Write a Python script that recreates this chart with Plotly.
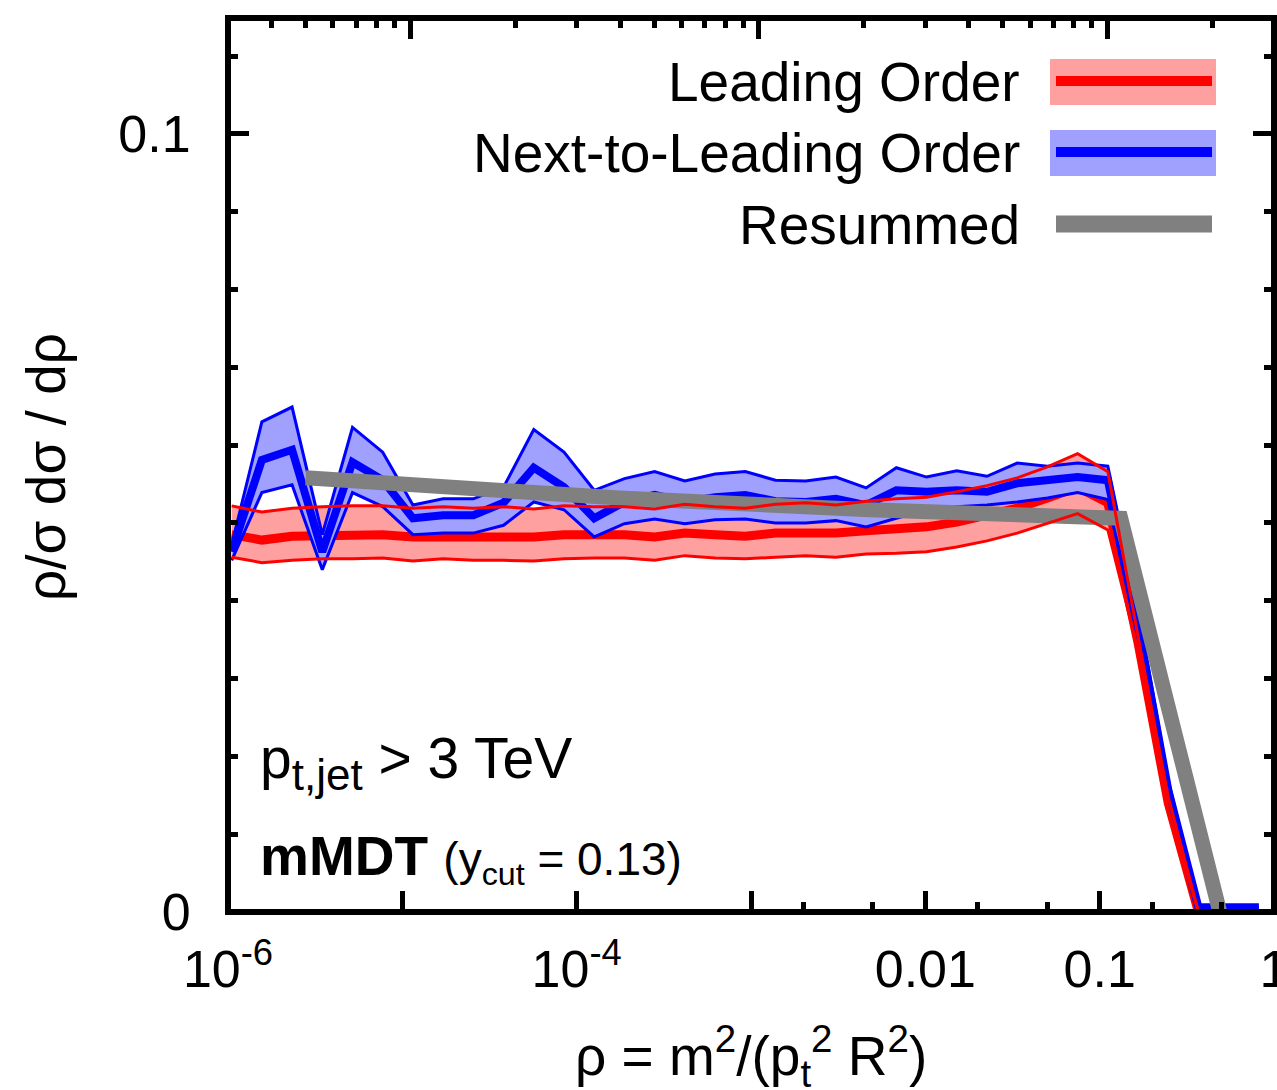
import plotly.graph_objects as go

# ---------------- data ----------------
rho = [1.050e-6, 1.564e-6, 2.331e-6, 3.474e-6, 5.177e-6, 7.716e-6, 1.150e-5, 1.714e-5,
       2.554e-5, 3.807e-5, 5.675e-5, 8.458e-5, 1.2606e-4, 1.879e-4, 2.800e-4, 4.174e-4,
       6.220e-4, 9.270e-4, 1.3817e-3, 2.0593e-3, 3.069e-3, 4.574e-3, 6.818e-3, 1.0160e-2,
       1.514e-2, 2.257e-2, 3.364e-2, 5.013e-2, 7.472e-2, 0.1114, 0.1660, 0.2473, 0.3686,
       0.5495, 0.819]

lo_upper = [0.0522, 0.0514, 0.0519, 0.0521, 0.0522, 0.0522, 0.0519, 0.0521, 0.0519, 0.0521,
            0.0518, 0.0522, 0.0521, 0.0521, 0.0518, 0.0524, 0.0521, 0.0519, 0.0524, 0.0526,
            0.0523, 0.0528, 0.0531, 0.0533, 0.0540, 0.0548, 0.0558, 0.0572, 0.0589, 0.0566,
            0.0354, 0.0148, 0.0, 0.0, 0.0]
lo_central = [0.0485, 0.0478, 0.0483, 0.0483, 0.0485, 0.0485, 0.0482, 0.0482, 0.0482, 0.0482,
              0.0482, 0.0485, 0.0485, 0.0485, 0.0482, 0.0487, 0.0485, 0.0483, 0.0487, 0.0487,
              0.0487, 0.0490, 0.0492, 0.0495, 0.0501, 0.0509, 0.0519, 0.0532, 0.0546, 0.0526,
              0.0346, 0.0140, 0.0, 0.0, 0.0]
lo_lower = [0.0456, 0.0449, 0.0452, 0.0454, 0.0454, 0.0455, 0.0451, 0.0454, 0.0452, 0.0452,
            0.0451, 0.0454, 0.0455, 0.0455, 0.0452, 0.0458, 0.0455, 0.0454, 0.0456, 0.0458,
            0.0456, 0.0460, 0.0461, 0.0463, 0.0469, 0.0477, 0.0487, 0.0499, 0.0512, 0.0491,
            0.0337, 0.0131, 0.0, 0.0, 0.0]

nlo_upper = [0.0472, 0.0630, 0.0649, 0.0485, 0.0623, 0.0591, 0.0523, 0.0531, 0.0531, 0.0546,
             0.0620, 0.0591, 0.0542, 0.0557, 0.0566, 0.0554, 0.0563, 0.0566, 0.0555, 0.0554,
             0.0559, 0.0545, 0.0571, 0.0559, 0.0567, 0.0560, 0.0577, 0.0573, 0.0577, 0.0573,
             0.0388, 0.0170, 0.0006, 0.0006, 0.0006]
nlo_central = [0.0463, 0.0581, 0.0594, 0.0463, 0.0578, 0.0555, 0.0506, 0.0510, 0.0510, 0.0526,
               0.0571, 0.0546, 0.0506, 0.0527, 0.0536, 0.0527, 0.0533, 0.0536, 0.0528, 0.0527,
               0.0531, 0.0523, 0.0542, 0.0540, 0.0542, 0.0540, 0.0551, 0.0554, 0.0559, 0.0555,
               0.0369, 0.0157, 0.0006, 0.0006, 0.0006]
nlo_lower = [0.0452, 0.0539, 0.0549, 0.0440, 0.0539, 0.0521, 0.0485, 0.0487, 0.0487, 0.0497,
             0.0527, 0.0517, 0.0482, 0.0499, 0.0505, 0.0499, 0.0504, 0.0505, 0.0500, 0.0500,
             0.0503, 0.0495, 0.0506, 0.0517, 0.0521, 0.0523, 0.0527, 0.0532, 0.0539, 0.0530,
             0.0350, 0.0144, 0.0006, 0.0006, 0.0006]

rho_res = [2.79e-6, 1.766e-4, 4.80e-3, 0.1042, 0.1321, 0.4887]
resummed = [0.0558, 0.0532, 0.0517, 0.0508, 0.0506, 0.0]

x_tickvals = [1e-6, 1e-5, 1e-4, 1e-3, 1e-2, 1e-1, 1]
x_ticktext = ["10<sup>-6</sup>", "", "10<sup>-4</sup>", "", "0.01", "0.1", "1"]
x_minor = [2e-3, 5e-3, 2e-2, 5e-2, 0.2, 0.5]
y_tickvals = [0, 0.1]
y_ticktext = ["0", "0.1"]
y_minor = [0.01, 0.02, 0.03, 0.04, 0.05, 0.06, 0.07, 0.08, 0.09, 0.11]
m_major = [10, 100, 1000]
m_minor = [4, 5, 6, 7, 8, 9, 20, 30, 40, 50, 60, 70, 80, 90,
           200, 300, 400, 500, 600, 700, 800, 900, 2000]

legend_labels = ["Leading Order", "Next-to-Leading Order", "Resummed"]

# ---------------- styles ----------------
RED = "#ff0000"
BLUE = "#0000ff"
GRAY = "#808080"
RED_FILL = "#ffa0a0"
BLUE_FILL = "#a0a0ff"
FONT = "Liberation Sans, Arial, Helvetica, sans-serif"

fig = go.Figure()


def band(x, up, lo, color):
    return go.Scatter(x=x + x[::-1], y=up + lo[::-1], fill="toself", fillcolor=color,
                      line=dict(width=0), mode="lines", hoverinfo="skip", showlegend=False)


def line(x, y, color, width):
    return go.Scatter(x=x, y=y, mode="lines", line=dict(color=color, width=width),
                      hoverinfo="skip", showlegend=False)


fig.add_trace(band(rho, lo_upper, lo_lower, RED_FILL))
fig.add_trace(line(rho, lo_central, RED, 9))
fig.add_trace(band(rho, nlo_upper, nlo_lower, BLUE_FILL))
fig.add_trace(line(rho, nlo_central, BLUE, 8))
fig.add_trace(line(rho, nlo_upper, BLUE, 3))
fig.add_trace(line(rho, nlo_lower, BLUE, 3))
fig.add_trace(line(rho_res, resummed, GRAY, 15))
fig.add_trace(line(rho, lo_upper, RED, 3))
fig.add_trace(line(rho, lo_lower, RED, 3))

W, H = 1277, 1090
L, R, T, B = 228, 3, 18, 178
PW, PH = W - L - R, H - T - B


def px(xp):
    return (xp - L) / PW


def py(yp):
    return (T + PH - yp) / PH


tickfont = dict(family=FONT, size=52, color="black")
TXT = 55

fig.update_layout(
    width=W, height=H, autosize=False,
    margin=dict(l=L, r=R, t=T, b=B, pad=0, autoexpand=False),
    paper_bgcolor="white", plot_bgcolor="white",
    showlegend=False,
    xaxis=dict(type="log", range=[-6, 0], showgrid=False, zeroline=False, automargin=False,
               tickmode="array", tickvals=x_tickvals, ticktext=x_ticktext,
               ticks="inside", ticklen=21, tickwidth=5, tickcolor="black",
               minor=dict(tickmode="array", tickvals=x_minor, ticks="inside",
                          ticklen=10, tickwidth=5, tickcolor="black", showgrid=False),
               tickfont=tickfont, ticklabeloverflow="allow", ticklabelstandoff=22,
               showline=False),
    xaxis2=dict(type="log", overlaying="x", side="top", anchor="y", automargin=False,
                range=[0.47712, 3.47712], showgrid=False, zeroline=False,
                tickmode="array", tickvals=m_major, showticklabels=False,
                ticks="inside", ticklen=21, tickwidth=5, tickcolor="black",
                minor=dict(tickmode="array", tickvals=m_minor, ticks="inside",
                           ticklen=10, tickwidth=5, tickcolor="black", showgrid=False),
                showline=False),
    yaxis=dict(range=[0, 0.1149], showgrid=False, zeroline=False, automargin=False,
               tickmode="array", tickvals=y_tickvals, ticktext=y_ticktext,
               ticks="inside", ticklen=21, tickwidth=5, tickcolor="black",
               minor=dict(tickmode="array", tickvals=y_minor, ticks="inside",
                          ticklen=10, tickwidth=5, tickcolor="black", showgrid=False),
               tickfont=tickfont, ticklabelstandoff=26,
               showline=True, linewidth=1, linecolor="black", mirror="ticks"),
)

# helper (invisible) trace so the top mass axis is rendered
fig.add_trace(go.Scatter(x=[m_major[0]], y=[resummed[-1]], xaxis="x2", mode="markers",
                         marker=dict(opacity=0), hoverinfo="skip", showlegend=False))

shapes = []
# frame
shapes.append(dict(type="rect", xref="paper", yref="paper", x0=0, x1=1, y0=0, y1=1,
                   line=dict(color="black", width=6), layer="above"))

# legend samples
leg_y = [82, 153, 225]
band_cols = [RED_FILL, BLUE_FILL, None]
line_cols = [RED, BLUE, GRAY]
line_w = [10, 10, 17]
for i in range(3):
    if band_cols[i]:
        shapes.append(dict(type="rect", xref="paper", yref="paper",
                           x0=px(1050), x1=px(1216), y0=py(leg_y[i] + 23), y1=py(leg_y[i] - 23),
                           fillcolor=band_cols[i], line=dict(width=0), layer="above"))
    shapes.append(dict(type="line", xref="paper", yref="paper",
                       x0=px(1056), x1=px(1212), y0=py(leg_y[i] - 1), y1=py(leg_y[i] - 1),
                       line=dict(color=line_cols[i], width=line_w[i]), layer="above"))

annotations = []
for i in range(3):
    annotations.append(dict(text=legend_labels[i], xref="paper", yref="paper",
                            x=px(1022), y=py(leg_y[i]), xanchor="right", yanchor="middle",
                            showarrow=False, font=dict(family=FONT, size=TXT, color="black")))

annotations.append(dict(text="p<sub><span style='font-size:44px'>t,jet</span></sub> > 3 TeV",
                        xref="paper", yref="paper",
                        x=px(258), y=py(762), xanchor="left", yanchor="middle",
                        showarrow=False, font=dict(family=FONT, size=57, color="black")))
annotations.append(dict(text="<b>mMDT</b> <span style='font-size:46px'>(y<sub>cut</sub> = 0.13)</span>",
                        xref="paper", yref="paper",
                        x=px(258), y=py(858), xanchor="left", yanchor="middle",
                        showarrow=False, font=dict(family=FONT, size=TXT, color="black")))

# axis titles
annotations.append(dict(text="ρ/σ dσ / dρ", xref="paper", yref="paper",
                        x=px(46), y=py(467), xanchor="center", yanchor="middle", textangle=-90,
                        showarrow=False, font=dict(family=FONT, size=TXT, color="black")))
annotations.append(dict(text="ρ = m<sup>2</sup>/(p<sub>t</sub><sup>2</sup> R<sup>2</sup>)",
                        xref="paper", yref="paper",
                        x=px(751), y=py(1056), xanchor="center", yanchor="middle",
                        showarrow=False, font=dict(family=FONT, size=TXT, color="black")))

fig.update_layout(shapes=shapes, annotations=annotations)

fig.write_html("out.html",
               config={"responsive": False, "displayModeBar": False},
               post_script="document.body.style.margin='0';document.body.style.overflow='hidden';")
